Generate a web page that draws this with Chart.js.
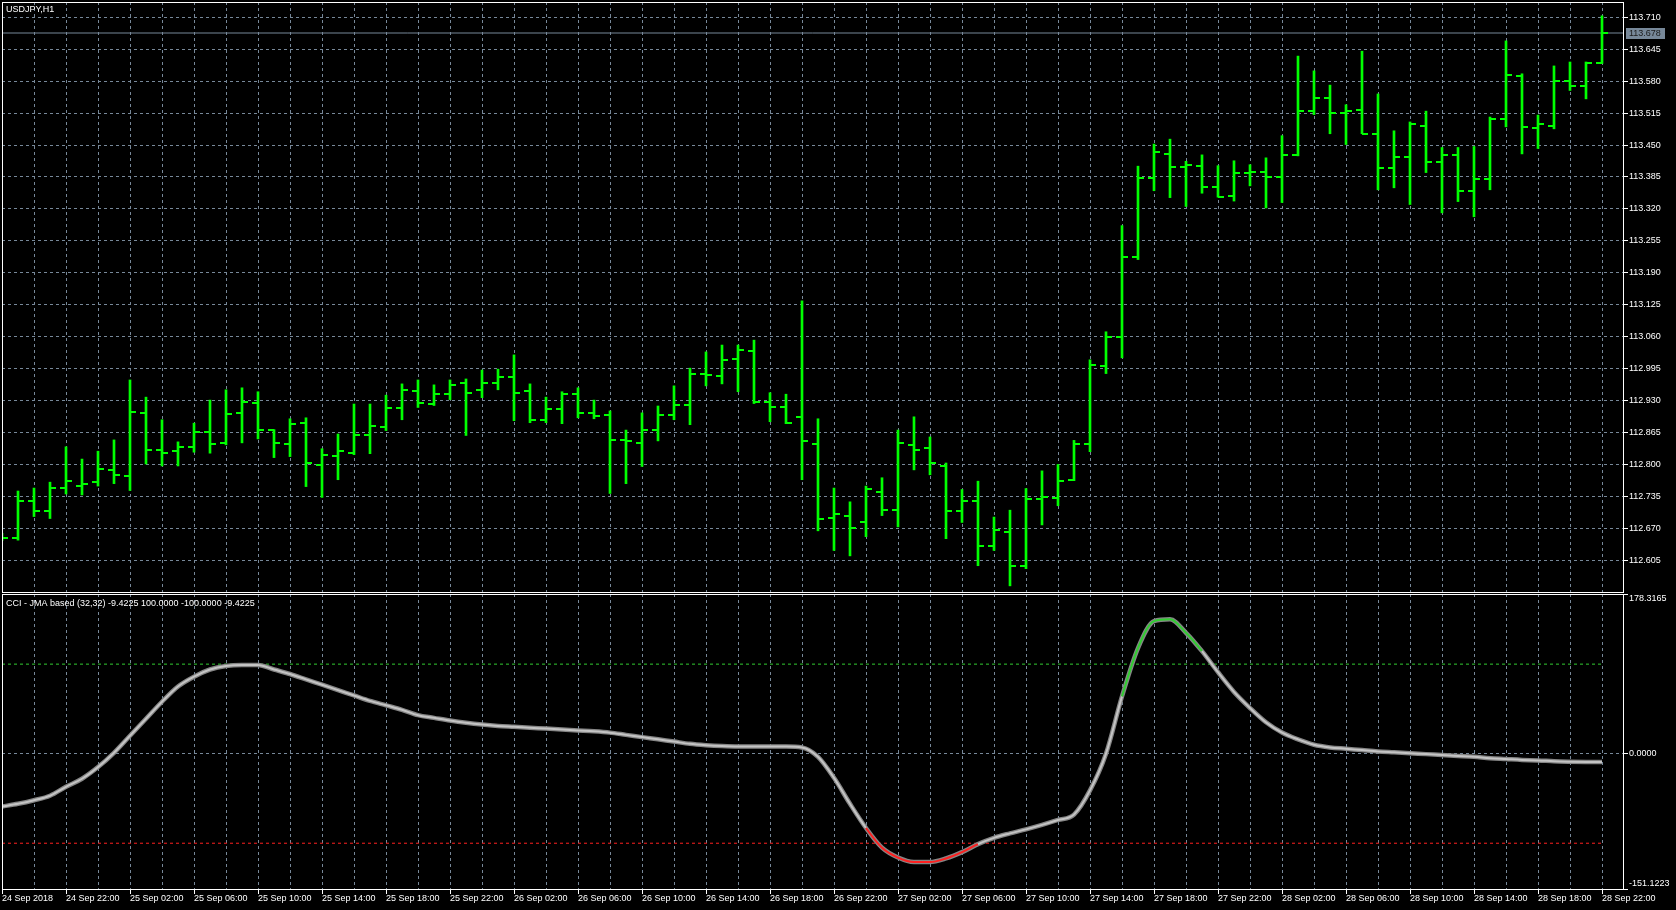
<!DOCTYPE html>
<html><head><meta charset="utf-8">
<script src="https://cdn.jsdelivr.net/npm/chart.js@4.4.1/dist/chart.umd.min.js"></script>
<style>
html,body{margin:0;padding:0;background:#000;width:1676px;height:910px;overflow:hidden}
#c1{position:absolute;left:0;top:0}
#c2{position:absolute;left:0;top:594px}
</style></head><body>
<canvas id="c1" width="1676" height="594"></canvas>
<canvas id="c2" width="1676" height="316"></canvas>
<script>
// ---------- DATA ----------
const symbolTitle = 'USDJPY,H1';
const indicatorTitle = 'CCI - JMA based (32,32) -9.4225 100.0000 -100.0000 -9.4225';

const timeLabels = ["24 Sep 2018","24 Sep 22:00","25 Sep 02:00","25 Sep 06:00","25 Sep 10:00","25 Sep 14:00","25 Sep 18:00","25 Sep 22:00","26 Sep 02:00","26 Sep 06:00","26 Sep 10:00","26 Sep 14:00","26 Sep 18:00","26 Sep 22:00","27 Sep 02:00","27 Sep 06:00","27 Sep 10:00","27 Sep 14:00","27 Sep 18:00","27 Sep 22:00","28 Sep 02:00","28 Sep 06:00","28 Sep 10:00","28 Sep 14:00","28 Sep 18:00","28 Sep 22:00"];

const openPrices = [
112.652,112.651,112.726,112.706,112.753,112.757,112.765,112.789,112.777,112.905,
112.830,112.828,112.836,112.867,112.844,112.905,112.926,112.871,112.842,112.885,
112.798,112.818,112.824,112.859,112.877,112.914,112.950,112.924,112.944,112.966,
112.952,112.966,112.977,112.950,112.891,112.912,112.944,112.905,112.901,112.850,
112.844,112.871,112.901,112.922,112.985,112.981,113.015,113.030,112.928,112.916,
112.897,112.842,112.692,112.696,112.682,112.745,112.708,112.840,112.834,112.796,
112.706,112.726,112.635,112.663,112.594,112.730,112.732,112.769,112.842,113.001,
113.060,113.223,113.382,113.432,113.406,113.408,113.365,113.347,113.394,113.396,
113.386,113.430,113.520,113.546,113.516,113.522,113.473,113.404,113.426,113.489,
113.416,113.430,113.357,113.380,113.502,113.591,113.485,113.489,113.581,113.571,
113.616];
const highPrices = [
112.660,112.746,112.752,112.764,112.836,112.811,112.827,112.850,112.972,112.937,
112.891,112.846,112.884,112.931,112.952,112.956,112.948,112.871,112.893,112.895,
112.832,112.862,112.923,112.923,112.941,112.964,112.972,112.962,112.972,112.974,
112.992,112.994,113.023,112.964,112.937,112.948,112.956,112.931,112.909,112.870,
112.905,112.919,112.960,112.996,113.029,113.043,113.043,113.053,112.946,112.943,
113.133,112.893,112.752,112.724,112.756,112.773,112.870,112.897,112.856,112.803,
112.749,112.766,112.693,112.707,112.751,112.787,112.800,112.849,113.013,113.070,
113.286,113.407,113.452,113.462,113.417,113.430,113.408,113.418,113.410,113.424,
113.469,113.631,113.601,113.572,113.532,113.641,113.554,113.479,113.497,113.519,
113.445,113.445,113.447,113.507,113.662,113.595,113.511,113.611,113.619,113.619,
113.713];
const lowPrices = [
112.645,112.646,112.694,112.690,112.740,112.738,112.756,112.761,112.747,112.801,
112.797,112.797,112.825,112.823,112.840,112.844,112.852,112.814,112.816,112.755,
112.733,112.769,112.820,112.822,112.869,112.891,112.916,112.920,112.932,112.859,
112.936,112.952,112.889,112.885,112.885,112.883,112.895,112.893,112.741,112.761,
112.796,112.848,112.891,112.881,112.960,112.964,112.948,112.924,112.887,112.883,
112.769,112.665,112.625,112.614,112.653,112.696,112.673,112.789,112.779,112.649,
112.682,112.594,112.625,112.553,112.588,112.677,112.716,112.767,112.826,112.985,
113.017,113.217,113.357,113.343,113.325,113.352,113.344,113.336,113.367,113.322,
113.333,113.428,113.512,113.473,113.451,113.473,113.359,113.363,113.329,113.394,
113.312,113.335,113.304,113.359,113.487,113.432,113.443,113.483,113.561,113.544,
113.616];
const closePrices = [
112.651,112.726,112.706,112.753,112.767,112.761,112.791,112.779,112.907,112.830,
112.824,112.836,112.867,112.842,112.903,112.928,112.871,112.844,112.883,112.804,
112.820,112.828,112.859,112.879,112.914,112.952,112.926,112.944,112.962,112.946,
112.966,112.977,112.946,112.891,112.912,112.944,112.905,112.899,112.850,112.848,
112.871,112.901,112.922,112.985,112.983,113.013,113.032,112.928,112.916,112.885,
112.848,112.690,112.700,112.671,112.751,112.708,112.844,112.830,112.802,112.706,
112.726,112.635,112.667,112.594,112.730,112.734,112.767,112.842,113.003,113.060,
113.223,113.382,113.435,113.406,113.410,113.365,113.345,113.394,113.396,113.386,
113.430,113.520,113.546,113.516,113.520,113.473,113.404,113.426,113.492,113.416,
113.430,113.357,113.380,113.504,113.593,113.487,113.492,113.581,113.571,113.616,
113.678];
const cciValues = [
-59,-56,-52,-47,-37,-28,-15,1,20,39,
58,75,86,94,98,99,99,94,89,83,
77,71,65,59,54,49,43,40,37,34.5,
32.5,31,30,29,28,27,26,25,23.5,21,
18.5,16,13.5,11,9.5,8.5,8,8,8,8,
7,-3.5,-27,-56,-83,-105,-116,-121,-121,-117,
-110,-101,-94,-89,-84.5,-79.5,-74,-68,-41,0,
64,118,148,150,135,114.5,91,69,51,35,
23.6,16,10,7,5.5,4,2.5,1.5,0.5,-0.5,
-1.5,-2.5,-3.5,-5,-6,-7,-7.5,-8.5,-9,-9.3,
-9.4225];
const priceTicks = [112.605,112.670,112.735,112.800,112.865,112.930,112.995,113.060,113.125,113.190,113.255,113.320,113.385,113.450,113.515,113.580,113.645,113.710];
const cciTicks = [-151.1223, 0, 178.3165];
const cciUpperLevel = 100;
const cciLowerLevel = -100;
const bidPrice = 113.678;
const priceMin = 112.5405, priceMax = 113.7411;

// ---------- STYLE ----------
const GRID = '#778899';
const BAR = '#00ff00';
const X_MAX = 101.3125;
Chart.defaults.font.family = "'Liberation Sans', Arial, sans-serif";
Chart.defaults.font.size = 9;
Chart.defaults.color = '#ffffff';

const idx = openPrices.map((_, i) => i);

function tickCanvas(side) {
  const c = document.createElement('canvas');
  c.width = 14; c.height = 2;
  const g = c.getContext('2d');
  g.fillStyle = BAR;
  if (side === 'open') g.fillRect(1, 0, 6, 2); else g.fillRect(7, 0, 6, 2);
  return c;
}

function xScale(showLabels) {
  return {
    type: 'linear', min: 0, max: X_MAX, offset: false,
    afterBuildTicks: s => { const t = []; for (let v = 0; v < idx.length; v += 2) t.push({ value: v }); s.ticks = t; },
    afterFit: s => { s.height = showLabels ? 21 : 0; s.paddingLeft = 0; s.paddingRight = 0; },
    grid: {
      color: GRID, lineWidth: 1, offset: false,
      drawTicks: showLabels, tickLength: 5, tickBorderDash: [],
      tickColor: c => (c.tick && c.tick.value % 4 === 0) ? '#ffffff' : 'rgba(0,0,0,0)'
    },
    border: { display: false, dash: [3, 3] },
    ticks: {
      display: showLabels, autoSkip: false, maxRotation: 0, minRotation: 0,
      align: 'start', padding: -1, color: '#ffffff',
      callback: v => (v % 4 === 0) ? timeLabels[v / 4] : ''
    }
  };
}
function yFit(s) { s.width = 53; s.paddingTop = 0; s.paddingBottom = 0; }

const framePlugin = {
  id: 'frame',
  afterDraw(chart) {
    const { ctx, chartArea: a } = chart;
    ctx.save();
    ctx.strokeStyle = '#ffffff'; ctx.lineWidth = 1; ctx.setLineDash([]);
    ctx.strokeRect(Math.round(a.left) + 0.5, Math.round(a.top) + 0.5, Math.round(a.right - a.left), Math.round(a.bottom - a.top));
    ctx.restore();
  }
};
function titlePlugin(text, x, y) {
  return {
    id: 'titleText',
    afterDraw(chart) {
      const ctx = chart.ctx;
      ctx.save();
      ctx.font = "9px 'Liberation Sans', Arial, sans-serif";
      ctx.fillStyle = '#ffffff'; ctx.textAlign = 'left'; ctx.textBaseline = 'middle';
      ctx.fillText(text, x, y);
      ctx.restore();
    }
  };
}
const bidLabelPlugin = {
  id: 'bidLabel',
  afterDraw(chart) {
    const { ctx, chartArea: a } = chart;
    const y = chart.scales.y.getPixelForValue(bidPrice);
    ctx.save();
    ctx.fillStyle = '#778899';
    ctx.fillRect(a.right + 3, Math.round(y) - 5, 39, 11);
    ctx.fillStyle = '#1a1a1a'; ctx.textAlign = 'left'; ctx.textBaseline = 'middle';
    ctx.font = "9px 'Liberation Sans', Arial, sans-serif";
    ctx.fillText(bidPrice.toFixed(3), a.right + 6, Math.round(y) + 0.5);
    ctx.restore();
  }
};
const edgeLabelPlugin = {
  id: 'edgeLabels',
  beforeDraw(chart) {
    const s = chart.scales.y;
    const items = s.getLabelItems();
    if (!items || items.length < 3) return;
    const first = items[0], last = items[items.length - 1];
    if (first.options && first.options.translation) first.options.translation[1] -= 5.5;
    if (last.options && last.options.translation) last.options.translation[1] += 5;
  }
};

// ---------- PRICE CHART ----------
new Chart(document.getElementById('c1'), {
  type: 'line',
  data: {
    datasets: [
      { type: 'scatter', data: idx.map(i => ({ x: i, y: openPrices[i] })), pointStyle: tickCanvas('open'), pointRadius: 3, clip: 0 },
      { type: 'scatter', data: idx.map(i => ({ x: i, y: closePrices[i] })), pointStyle: tickCanvas('close'), pointRadius: 3, clip: 0 },
      { type: 'bar', data: idx.map(i => ({ x: i, y: [lowPrices[i], highPrices[i]] })), backgroundColor: BAR, borderWidth: 0, barThickness: 2, grouped: false, clip: 0 },
      { type: 'line', data: [{ x: 0, y: bidPrice }, { x: X_MAX, y: bidPrice }], borderColor: '#778899', borderWidth: 1, pointRadius: 0, clip: 0 }
    ]
  },
  options: {
    responsive: false, animation: false, events: [], devicePixelRatio: 1,
    layout: { autoPadding: false, padding: { left: 2, top: 2, right: 0, bottom: 2 } },
    plugins: { legend: { display: false }, tooltip: { enabled: false } },
    scales: {
      x: xScale(false),
      y: {
        type: 'linear', position: 'right', min: priceMin, max: priceMax,
        afterBuildTicks: s => { s.ticks = priceTicks.map(v => ({ value: v })); },
        afterFit: yFit,
        grid: { color: GRID, lineWidth: 1, tickLength: 5, tickColor: '#ffffff', tickBorderDash: [] },
        border: { display: false, dash: [3, 3] },
        ticks: { autoSkip: false, padding: 1, color: '#ffffff', callback: v => Number(v).toFixed(3) }
      }
    }
  },
  plugins: [framePlugin, bidLabelPlugin, titlePlugin(symbolTitle, 6, 9.5)]
});

// ---------- CCI CHART ----------
const cciColor = c => {
  const v = cciValues[c.p1DataIndex];
  return v > cciUpperLevel ? '#32cd32' : (v < cciLowerLevel ? '#ff2020' : '#c4c4c4');
};
new Chart(document.getElementById('c2'), {
  type: 'line',
  data: {
    datasets: [
      { data: idx.map(i => ({ x: i, y: cciValues[i] })), borderWidth: 2, borderColor: '#c4c4c4', segment: { borderColor: cciColor }, pointRadius: 0, cubicInterpolationMode: 'monotone', clip: 0 },
      { data: idx.map(i => ({ x: i, y: cciValues[i] })), borderWidth: 4.5, borderColor: '#858585', pointRadius: 0, cubicInterpolationMode: 'monotone', clip: 0 },
      { data: idx.map(i => ({ x: i, y: cciUpperLevel })), borderWidth: 1, borderColor: '#32cd32', borderDash: [3, 3], pointRadius: 0, clip: 0 },
      { data: idx.map(i => ({ x: i, y: cciLowerLevel })), borderWidth: 1, borderColor: '#ff2020', borderDash: [3, 3], pointRadius: 0, clip: 0 }
    ]
  },
  options: {
    responsive: false, animation: false, events: [], devicePixelRatio: 1,
    layout: { autoPadding: false, padding: { left: 2, top: 0, right: 0, bottom: 0 } },
    plugins: { legend: { display: false }, tooltip: { enabled: false } },
    scales: {
      x: xScale(true),
      y: {
        type: 'linear', position: 'right', min: cciTicks[0], max: cciTicks[cciTicks.length - 1],
        afterBuildTicks: s => { s.ticks = cciTicks.map(v => ({ value: v })); },
        afterFit: yFit,
        grid: { color: GRID, lineWidth: 1, tickLength: 5, tickColor: '#ffffff', tickBorderDash: [] },
        border: { display: false, dash: [3, 3] },
        ticks: { autoSkip: false, padding: 1, color: '#ffffff', callback: v => Number(v).toFixed(4) }
      }
    }
  },
  plugins: [framePlugin, edgeLabelPlugin, titlePlugin(indicatorTitle, 6, 9.7)]
});
</script>
</body></html>
